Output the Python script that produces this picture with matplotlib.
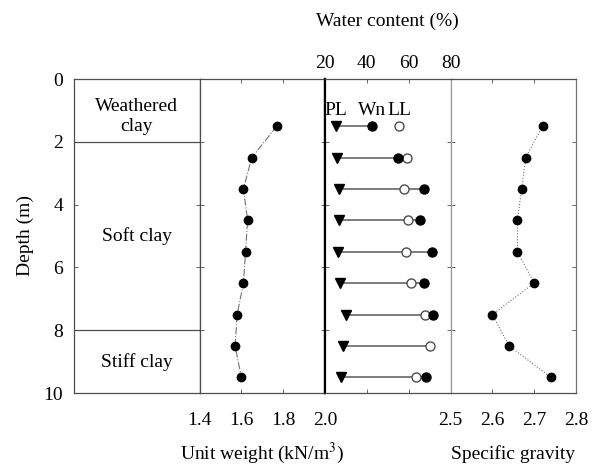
import matplotlib.pyplot as plt
import numpy as np

plt.rcParams['font.family'] = ['Liberation Serif', 'DejaVu Serif']
plt.rcParams['mathtext.fontset'] = 'stix'

# soil profile
depth = [1.5, 2.5, 3.5, 4.5, 5.5, 6.5, 7.5, 8.5, 9.5]
unit_weight = [1.77, 1.65, 1.61, 1.63, 1.62, 1.61, 1.58, 1.57, 1.60]
specific_gravity = [2.72, 2.68, 2.67, 2.66, 2.66, 2.70, 2.60, 2.64, 2.74]
plastic_limit = [25.3, 25.9, 26.7, 26.7, 26.1, 27.2, 29.9, 28.5, 27.8]
natural_water = [42.4, 54.7, 67.5, 65.3, 71.2, 67.4, 71.8, np.nan, 68.5]
liquid_limit = [55.4, 59.2, 57.9, 59.7, 58.6, 61.0, 68.0, 70.4, 63.4]

layer_bounds = [2, 8]
layer_names = ['Weathered\nclay', 'Soft clay', 'Stiff clay']
layer_label_depth = [1.2, 5.0, 9.0]

uw_ticks = [1.4, 1.6, 1.8, 2.0]
wc_ticks = [20, 40, 60, 80]
gs_ticks = [2.5, 2.6, 2.7, 2.8]

FS = 14

W, H = 598, 466
fig = plt.figure(figsize=(W / 100, H / 100), dpi=100)

x0, x1, y_top, y_bot = 74, 576, 79, 393
pw = (x1 - x0) / 4
axes = []
for i in range(4):
    ax = fig.add_axes([(x0 + i * pw) / W, 1 - y_bot / H, pw / W, (y_bot - y_top) / H],
                      sharey=axes[0] if axes else None)
    ax.tick_params(direction='in', length=3, width=0.6, colors='0.3', labelcolor='black',
                   labelsize=FS, top=True, right=True, left=True, labelleft=False)
    for s in ax.spines.values():
        s.set_color('0.3')
        s.set_linewidth(0.9)
    axes.append(ax)

ax_soil, ax_uw, ax_wc, ax_gs = axes

# soil description column
ax_soil.set_ylim(10, 0)
ax_soil.set_yticks([0, 2, 4, 6, 8, 10])
ax_soil.tick_params(labelleft=True, pad=8)
ax_soil.set_xlim(0, 1)
ax_soil.set_xticks([])
ax_soil.set_ylabel('Depth (m)', fontsize=FS, labelpad=7)
for d in layer_bounds:
    ax_soil.axhline(d, color='0.3', lw=0.9)
for name, d in zip(layer_names, layer_label_depth):
    ax_soil.text(0.5, d, name, ha='center', va='center', fontsize=FS, linespacing=1.25)

# unit weight
ax_uw.plot(unit_weight, depth, color='0.45', lw=0.8, ls='-.', marker='o', ms=6,
           mfc='black', mec='black')
ax_uw.set_xlim(1.4, 2.0)
ax_uw.set_xticks(uw_ticks)
ax_uw.tick_params(axis='x', pad=14)
ax_uw.spines['right'].set_color('black')
ax_uw.spines['right'].set_linewidth(1.6)

# water content and Atterberg limits
line_end = np.where(np.isnan(natural_water), liquid_limit, natural_water)
for d, pl, end in zip(depth, plastic_limit, line_end):
    ax_wc.plot([pl, end], [d, d], color='0.35', lw=1.1, zorder=1)
ax_wc.plot(plastic_limit, depth, 'v', color='black', ms=6.5, zorder=3)
ax_wc.plot(liquid_limit, depth, 'o', mfc='white', mec='0.3', mew=1.0, ms=6.5, zorder=2)
ax_wc.plot(natural_water, depth, 'o', color='black', ms=6.5, zorder=3)
ax_wc.set_xlim(20, 80)
ax_wc.set_xticks(wc_ticks)
ax_wc.tick_params(axis='x', labelbottom=False, labeltop=True, pad=5)
ax_wc.set_xlabel('Water content (%)', fontsize=FS, labelpad=21)
ax_wc.xaxis.set_label_position('top')
ax_wc.spines['left'].set_color('black')
ax_wc.spines['left'].set_linewidth(1.6)
ax_wc.spines['right'].set_color('0.6')
for lbl, x in zip(['PL', 'Wn', 'LL'], [plastic_limit[0], natural_water[0], liquid_limit[0]]):
    ax_wc.text(x, 1.0, lbl, ha='center', va='center', fontsize=FS)

# specific gravity
ax_gs.plot(specific_gravity, depth, color='0.45', lw=0.8, ls=':', marker='o', ms=6,
           mfc='black', mec='black')
ax_gs.set_xlim(2.5, 2.8)
ax_gs.set_xticks(gs_ticks)
ax_gs.tick_params(axis='x', pad=14)
ax_gs.spines['left'].set_color('0.6')
ax_gs.spines['right'].set_color('0.45')

fig.text(262 / W, 1 - 453 / H, 'Unit weight (kN/m$^3$)', ha='center', va='center', fontsize=FS)
fig.text(513 / W, 1 - 454 / H, 'Specific gravity', ha='center', va='center', fontsize=FS)

fig.savefig('out.png', dpi=100)
